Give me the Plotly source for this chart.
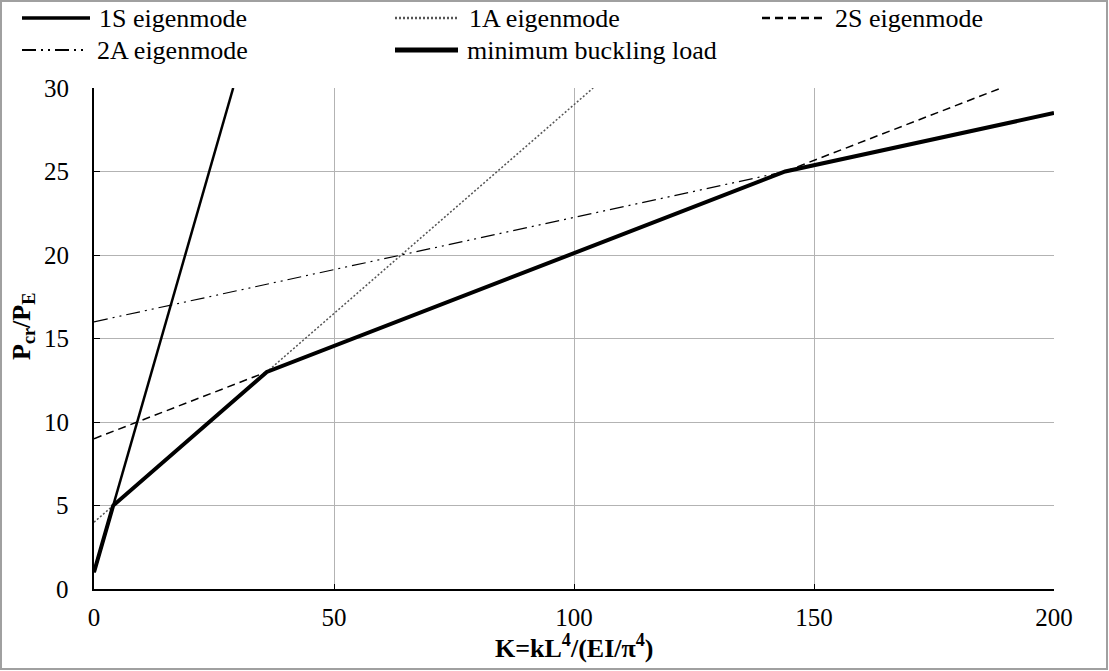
import plotly.graph_objects as go

# Values (straight lines: endpoints / breakpoints)
k_1s = [0, 29]
p_1s = [1, 30]
k_1a = [0, 104]
p_1a = [4, 30]
k_2s = [0, 189]
p_2s = [9, 30]
k_2a = [0, 200]
p_2a = [16, 28.5]
k_min = [0, 4, 36, 144, 200]
p_min = [1, 5, 13, 25, 28.5]

x_ticks = [0, 50, 100, 150, 200]
y_ticks = [0, 5, 10, 15, 20, 25, 30]

FONT = "Times New Roman"
W, H = 1109, 671
L, R, T, B = 94, 55, 88, 82
PW, PH = W - L - R, H - T - B


def px(x):
    return (x - L) / PW


def py(y):
    return (H - B - y) / PH


series = [
    ("1S eigenmode", k_1s, p_1s, dict(color="black", width=2.5)),
    ("1A eigenmode", k_1a, p_1a, dict(color="#555555", width=1.5, dash="2px,2px")),
    ("2S eigenmode", k_2s, p_2s, dict(color="black", width=1.5, dash="8px,5px")),
    ("2A eigenmode", k_2a, p_2a, dict(color="black", width=1.2, dash="14px,5px,2px,5px,2px,5px")),
    ("minimum buckling load", k_min, p_min, dict(color="black", width=4)),
]

fig = go.Figure()
for name, xs, ys, ln in series:
    fig.add_trace(go.Scatter(x=xs, y=ys, mode="lines", name=name, line=ln,
                             showlegend=False))

# manual legend (sample line start/end px, text x px, row y px)
legend_pos = [
    (22, 90, 97, 18),
    (395, 457, 467, 18),
    (762, 822, 833, 18),
    (22, 88, 95, 50),
    (395, 458, 465, 50),
]
for (name, _, _, ln), (x0, x1, xt, yr) in zip(series, legend_pos):
    lw = dict(ln)
    lw["width"] = ln["width"] + 0.8
    fig.add_shape(type="line", xref="paper", yref="paper",
                  x0=px(x0), x1=px(x1), y0=py(yr), y1=py(yr), line=lw)
    fig.add_annotation(text=name, xref="paper", yref="paper", x=px(xt), y=py(yr),
                       xanchor="left", yanchor="middle", showarrow=False,
                       font=dict(family=FONT, size=26, color="black"))

# y tick labels placed on the y scale (right edge ~24px left of the axis)
for v in y_ticks:
    fig.add_annotation(text=str(v), xref="paper", yref="y", x=px(71), y=v,
                       xanchor="right", yanchor="middle", showarrow=False,
                       font=dict(family=FONT, size=25, color="black"))

# axis titles
fig.add_annotation(text="<b>K=kL<sup>4</sup>/(EI/π<sup>4</sup>)</b>", xref="paper",
                   yref="paper", x=0.5, y=py(646), xanchor="center", yanchor="middle",
                   showarrow=False, font=dict(family=FONT, size=26, color="black"))
fig.add_annotation(text="<b>P<sub>cr</sub>/P<sub>E</sub></b>", xref="paper",
                   yref="paper", x=px(23), y=py(327), xanchor="center", yanchor="middle",
                   textangle=-90, showarrow=False,
                   font=dict(family=FONT, size=26, color="black"))

# outer frame
fig.add_shape(type="rect", xref="paper", yref="paper",
              x0=px(1), x1=px(W - 2), y0=py(H - 2), y1=py(1),
              line=dict(color="#a0a0a0", width=2), layer="below")

fig.update_layout(
    width=W, height=H,
    margin=dict(l=L, r=R, t=T, b=B, autoexpand=False),
    paper_bgcolor="white", plot_bgcolor="white",
    font=dict(family=FONT, size=25, color="black"),
    showlegend=False,
    xaxis=dict(range=[0, 200], tickvals=x_ticks, showgrid=True, gridcolor="#b3b3b3",
               gridwidth=1, showline=True, linecolor="black", linewidth=2,
               ticks="inside", ticklen=5, tickcolor="black", zeroline=False,
               tickfont=dict(family=FONT, size=25), ticklabelstandoff=5),
    yaxis=dict(range=[0, 30], tickvals=y_ticks, showgrid=True, gridcolor="#b3b3b3",
               gridwidth=1, showline=True, linecolor="black", linewidth=2,
               ticks="inside", ticklen=6, tickcolor="black", zeroline=False,
               showticklabels=False),
)

fig.write_html("out.html", config={"displayModeBar": False},
               post_script="document.body.style.margin='0';document.body.style.padding='0';")
